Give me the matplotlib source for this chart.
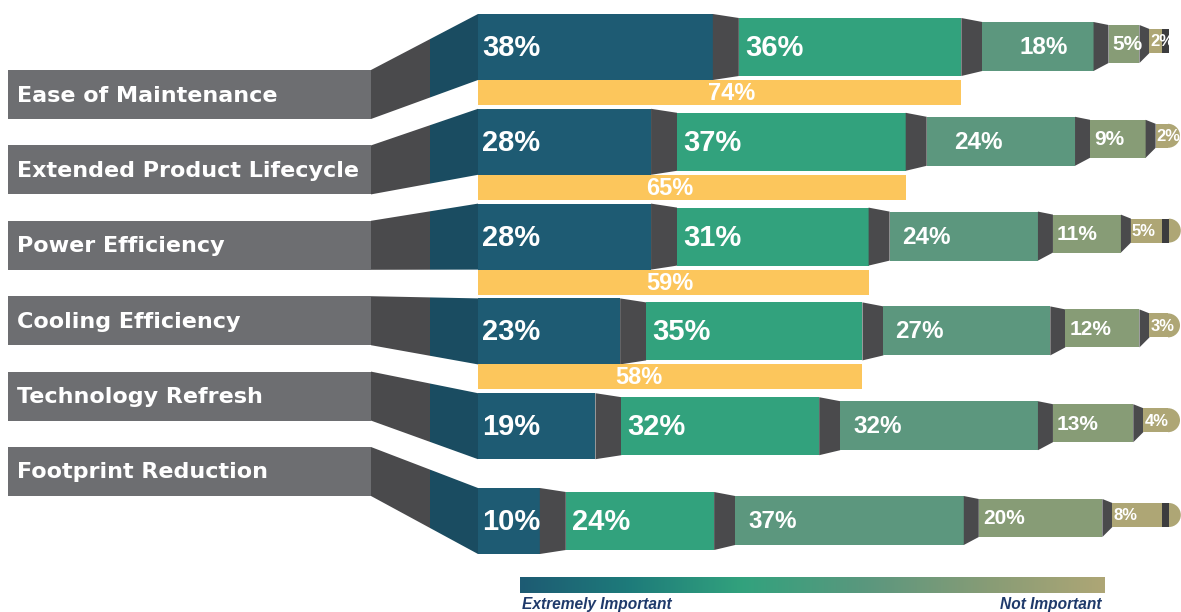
import numpy as np
import matplotlib
matplotlib.use('Agg')
import matplotlib.pyplot as plt
from matplotlib.patches import Rectangle, Polygon, Wedge
from matplotlib.colors import LinearSegmentedColormap

# survey data (percent of respondents per importance level)
categories = ['Ease of Maintenance', 'Extended Product Lifecycle', 'Power Efficiency',
              'Cooling Efficiency', 'Technology Refresh', 'Footprint Reduction']
extremely = [38, 28, 28, 23, 19, 10]
very = [36, 37, 31, 35, 32, 24]
somewhat = [18, 24, 24, 27, 32, 37]
slightly = [5, 9, 11, 12, 13, 20]
notimp = [2, 2, 5, 3, 4, 8]
top2 = [74, 65, 59, 58, None, None]
legend_labels = ['Extremely Important', 'Not Important']

levels = [extremely, very, somewhat, slightly, notimp]

# colours
seg_colors = ['#1e5b73', '#32a27d', '#5c977e', '#879c76', '#aea675']
dark = '#4a4a4c'
darkblue = '#1a4c61'
boxgray = '#6d6e71'
yellow = '#fcc65c'
navy = '#1f3a6b'

# layout (pixel units, y pointing down)
W, H = 1181, 612
x0 = 478            # start of the bars
pxpct = 6.18        # pixels per percent
gaps = [26, 21, 15, 10]
bar_top0, bar_step, bar_h = 14, 94.8, 66
top_off = [0, 4, 8, 11, 15]
bot_off = [0, 4, 9, 17, 27]
yel_h = 25
box_x0, box_x1, box_top0, box_step, box_h = 8, 371, 70, 75.4, 49
split_x = 430
seg_fs = [21, 21, 17.5, 15, 12]
seg_pad = [4, 6, None, 4, 1]
seg3_pad = [37, 27, 13, 12, 13, 13]
has_stripe = [True, False, True, False, False, True]
has_cap = [False, True, True, True, True, True]
stripe_w = 7

plt.rcParams['font.family'] = ['Liberation Sans', 'DejaVu Sans']

fig = plt.figure(figsize=(W/100, H/100), dpi=100)
ax = fig.add_axes([0, 0, 1, 1])
ax.set_xlim(0, W)
ax.set_ylim(H, 0)
ax.axis('off')

for r, cat in enumerate(categories):
    btop = bar_top0 + r*bar_step
    bbot = btop + bar_h
    # label box
    ytop = box_top0 + r*box_step
    ybot = ytop + box_h
    ax.add_patch(Rectangle((box_x0, ytop), box_x1-box_x0, box_h, color=boxgray, lw=0))
    ax.text(box_x0+9, ytop+box_h/2+1, cat, color='white', fontsize=16, fontweight='bold',
            family='DejaVu Sans', va='center', ha='left')
    # connector from box to bar, split in gray and dark blue
    f = (split_x-box_x1)/(x0-box_x1)
    ts = ytop + (btop-ytop)*f
    bs = ybot + (bbot-ybot)*f
    ax.add_patch(Polygon([(box_x1, ytop), (split_x, ts), (split_x, bs), (box_x1, ybot)],
                         closed=True, color=dark, lw=0))
    ax.add_patch(Polygon([(split_x, ts), (x0, btop), (x0, bbot), (split_x, bs)],
                         closed=True, color=darkblue, lw=0))
    # segments
    x = x0
    prev = None
    ends = []
    for i, lev in enumerate(levels):
        val = lev[r]
        w = val*pxpct
        t = btop + top_off[i]
        b = bbot - bot_off[i]
        if prev is not None:
            px, pt, pb = prev
            ax.add_patch(Polygon([(px, pt), (x, t), (x, b), (px, pb)], closed=True,
                                 color=dark, lw=0))
        ax.add_patch(Rectangle((x, t), w, b-t, color=seg_colors[i], lw=0))
        pad = seg3_pad[r] if i == 2 else seg_pad[i]
        ax.text(x+pad, (t+b)/2+1, '{}%'.format(val), color='white', fontsize=seg_fs[i],
                fontweight='bold', va='center', ha='left', zorder=5)
        ends.append(x+w)
        prev = (x+w, t, b)
        if i < len(gaps):
            x = x + w + gaps[i]
    # end of the pencil: stripe and rounded cap
    xe, t, b = prev
    if has_stripe[r]:
        ax.add_patch(Rectangle((xe, t), stripe_w, b-t, color='#3c3c3e', lw=0, zorder=3))
        xe = xe + stripe_w
    if has_cap[r]:
        ax.add_patch(Wedge((xe, (t+b)/2), (b-t)/2, -90, 90, color=seg_colors[-1], lw=0))
    # top-2 box
    if top2[r] is not None:
        ax.add_patch(Rectangle((x0, bbot), ends[1]-x0, yel_h, color=yellow, lw=0))
        ax.text(ends[0]-5, bbot+yel_h/2+1, '{}%'.format(top2[r]), color='white',
                fontsize=17, fontweight='bold', va='center', ha='left')

# gradient legend
cmap = LinearSegmentedColormap.from_list('imp', [(0, '#1e5b73'), (0.18, '#1d7a7a'),
                                                 (0.38, '#32a27d'), (0.6, '#5c977e'),
                                                 (0.8, '#879c76'), (1, '#aea675')])
grad = np.linspace(0, 1, 256).reshape(1, -1)
ax.imshow(grad, cmap=cmap, aspect='auto', extent=[520, 1105, 593, 577])
ax.set_xlim(0, W)
ax.set_ylim(H, 0)
ax.text(522, 604, legend_labels[0], color=navy, fontsize=11.2, fontweight='bold',
        fontstyle='italic', va='center', ha='left')
ax.text(1102, 604, legend_labels[1], color=navy, fontsize=11.2, fontweight='bold',
        fontstyle='italic', va='center', ha='right')

fig.savefig('out.png', dpi=100)
